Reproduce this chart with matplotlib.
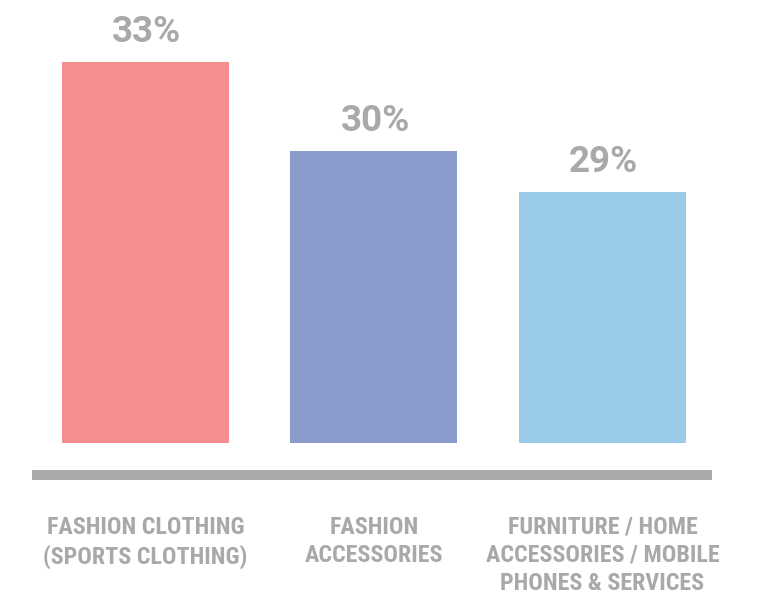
import matplotlib
matplotlib.use("Agg")
import matplotlib.pyplot as plt
from matplotlib.lines import Line2D

categories = ["FASHION CLOTHING\n(SPORTS CLOTHING)",
              "FASHION\nACCESSORIES",
              "FURNITURE / HOME\nACCESSORIES / MOBILE\nPHONES & SERVICES"]
# bar heights as drawn in the picture (labels are rounded)
shares = [33.1, 30.1, 28.7]
value_labels = ["33%", "30%", "29%"]
colors = ["#f48f8d", "#8a9ccc", "#9acbe9"]

GRAY = "#a9a9a9"
W, H, DPI = 766, 595, 100

fig = plt.figure(figsize=(W / DPI, H / DPI), dpi=DPI)
# axes bottom sits at the bar base (pixel row 443)
ax = fig.add_axes([0, 1 - 443 / H, 1, 443 / H])
x = range(len(shares))
ax.bar(x, shares, width=0.731, color=colors)
ax.set_xlim(-0.637, 2.716)
ax.set_ylim(20.2, 20.2 + 443 / 29.5)
ax.axis("off")

for xi, v, lab in zip(x, shares, value_labels):
    ax.annotate(lab, (xi, v), xytext=(1, 14.4), textcoords="offset points",
                ha="center", va="baseline", fontsize=26.5, fontweight="bold",
                color=GRAY, family=["Roboto", "DejaVu Sans"])

# thick gray baseline below the bars
fig.add_artist(Line2D([32 / W, 712 / W], [1 - 475 / H, 1 - 475 / H],
                      color=GRAY, lw=7.2, solid_capstyle="butt"))

for xi, cat in zip(x, categories):
    ax.annotate(cat, (xi, 0), xycoords=("data", "axes fraction"),
                xytext=(0, -52.5), textcoords="offset points",
                ha="center", va="top", fontsize=17.3, fontweight="bold",
                color=GRAY, linespacing=1.28,
                family=["Roboto Condensed", "Roboto", "DejaVu Sans"])

fig.savefig("out.png", dpi=DPI)
